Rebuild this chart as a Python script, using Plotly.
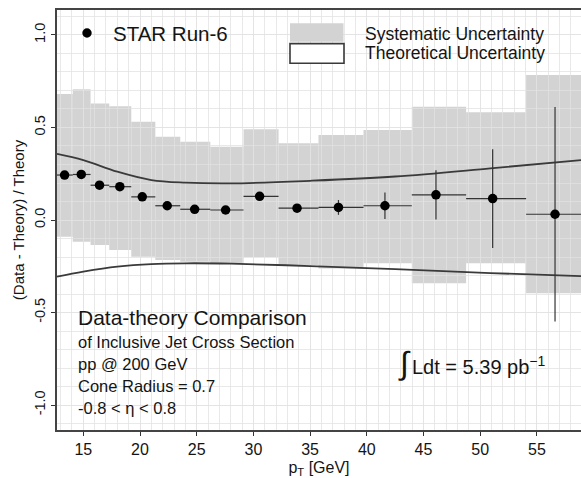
import plotly.graph_objects as go

# ---------------- data ----------------
pt = [13.35, 14.82, 16.43, 18.22, 20.2, 22.4, 24.82, 27.55, 30.55, 33.85, 37.5, 41.6, 46.1, 51.1, 56.6]
ratio = [0.243, 0.246, 0.188, 0.18, 0.125, 0.077, 0.058, 0.054, 0.128, 0.064, 0.068, 0.077, 0.136, 0.116, 0.031]
stat_err = [0.006, 0.006, 0.007, 0.008, 0.009, 0.01, 0.011, 0.012, 0.014, 0.02, 0.04, 0.072, 0.133, 0.267, 0.58]
bin_lo = [12.68, 14.07, 15.64, 17.29, 19.23, 21.35, 23.55, 26.2, 29.13, 32.22, 35.74, 39.71, 43.97, 48.76, 54.05]
bin_hi = [14.07, 15.64, 17.29, 19.23, 21.35, 23.55, 26.2, 29.13, 32.22, 35.74, 39.71, 43.97, 48.76, 54.05, 59.5]
sys_hi = [0.681, 0.706, 0.63, 0.615, 0.531, 0.45, 0.423, 0.396, 0.49, 0.415, 0.459, 0.486, 0.612, 0.582, 0.784]
sys_lo = [-0.09, -0.117, -0.135, -0.162, -0.198, -0.216, -0.225, -0.234, -0.20, -0.243, -0.262, -0.234, -0.342, -0.234, -0.396]

theory_x = [12.68, 15.0, 18.0, 21.0, 24.0, 28.0, 35.0, 42.5, 50.9, 58.9]
theory_up = [0.357, 0.324, 0.261, 0.216, 0.202, 0.198, 0.212, 0.235, 0.279, 0.324]
theory_dn = [-0.306, -0.279, -0.252, -0.238, -0.234, -0.236, -0.249, -0.266, -0.287, -0.303]

x_ticks = [15, 20, 25, 30, 35, 40, 45, 50, 55]
y_ticks = [-1.0, -0.5, 0.0, 0.5, 1.0]

# ---------------- layout geometry ----------------
W, H = 581, 478
ML, MR, MT, MB = 57, 0, 10, 48
PW, PH = W - ML - MR, H - MT - MB
FONT = "Liberation Sans, Arial, Helvetica, sans-serif"
INK = "#141414"


def px(x):
    return (x - ML) / PW


def py(y):
    return (H - MB - y) / PH


fig = go.Figure()

# systematic band as shapes drawn beneath the grid
shapes = []
for lo, hi, a, b in zip(bin_lo, bin_hi, sys_lo, sys_hi):
    shapes.append(dict(type="rect", xref="x", yref="y", x0=lo, x1=hi, y0=a, y1=b,
                       fillcolor="#d3d3d3", line=dict(width=0), layer="below"))

# theoretical uncertainty curves
for yy in (theory_up, theory_dn):
    fig.add_trace(go.Scatter(x=theory_x, y=yy, mode="lines",
                             line=dict(color="#3a3a3a", width=1.8, shape="spline", smoothing=1.0),
                             hoverinfo="skip", showlegend=False))

# data points
fig.add_trace(go.Scatter(
    x=pt, y=ratio, mode="markers",
    marker=dict(color="black", size=9.5),
    error_x=dict(type="data", symmetric=False,
                 array=[h - p for h, p in zip(bin_hi, pt)],
                 arrayminus=[p - l for l, p in zip(bin_lo, pt)],
                 color="#333333", thickness=1.2, width=0),
    error_y=dict(type="data", array=stat_err, color="#333333", thickness=1.2, width=0),
    showlegend=False))

# legend graphics (manual)
r = 4.7
shapes.append(dict(type="circle", xref="paper", yref="paper",
                   x0=px(87 - r), x1=px(87 + r), y0=py(33 + r), y1=py(33 - r),
                   fillcolor="black", line=dict(width=0), layer="above"))
shapes.append(dict(type="rect", xref="paper", yref="paper",
                   x0=px(290), x1=px(343.5), y0=py(41.7), y1=py(23.3),
                   fillcolor="#d3d3d3", line=dict(width=0), layer="above"))
shapes.append(dict(type="rect", xref="paper", yref="paper",
                   x0=px(290), x1=px(344), y0=py(63.3), y1=py(43.6),
                   fillcolor="white", line=dict(color="#3a3a3a", width=1.6), layer="above"))

annotations = []


def txt(s, x, y, size, xanchor="left"):
    annotations.append(dict(text=s, x=px(x), y=py(y), xref="paper", yref="paper",
                            xanchor=xanchor, yanchor="middle", showarrow=False,
                            font=dict(family=FONT, size=size, color=INK)))


txt("STAR Run-6", 111, 33, 20.5)
txt("Systematic Uncertainty", 363, 33.5, 17.5)
txt("Theoretical Uncertainty", 363, 53.5, 17.5)
txt("Data-theory Comparison", 76, 317.5, 21)
txt("of Inclusive Jet Cross Section", 76, 341.7, 16.5)
txt("pp @ 200 GeV", 76, 363.5, 16.5)
txt("Cone Radius = 0.7", 76, 386, 16.5)
txt("-0.8 &lt; η &lt; 0.8", 76, 407.7, 16.5)
txt("∫", 396, 363, 32)
txt("Ldt = 5.39 pb<sup>−1</sup>", 410, 365, 20)

fig.update_layout(
    width=W, height=H,
    margin=dict(l=ML, r=MR, t=MT, b=MB, pad=0),
    paper_bgcolor="white", plot_bgcolor="white",
    shapes=shapes, annotations=annotations,
    font=dict(family=FONT, color=INK),
    xaxis=dict(range=[12.68, 58.89], tickmode="array", tickvals=x_ticks,
               ticks="outside", ticklen=4, tickwidth=1.2, tickcolor="#333",
               showline=True, linecolor="#444", linewidth=1.6, mirror=True,
               showgrid=True, gridcolor="rgba(226,226,226,0.75)", gridwidth=1,
               minor=dict(dtick=1, tick0=0, showgrid=True, gridcolor="rgba(226,226,226,0.75)",
                          gridwidth=1, ticks=""),
               tickfont=dict(size=16, color=INK), zeroline=False,
               title=dict(text="p<sub>T</sub> [GeV]", font=dict(size=16, color=INK), standoff=9)),
    yaxis=dict(range=[-1.135, 1.135], tickmode="array", tickvals=y_ticks,
               ticktext=["%.1f" % v if v >= 0 else "-%.1f" % abs(v) for v in y_ticks],
               tickangle=-90, ticks="outside", ticklen=4, tickwidth=1.2, tickcolor="#333",
               showline=True, linecolor="#444", linewidth=1.6, mirror=False,
               showgrid=True, gridcolor="rgba(226,226,226,0.75)", gridwidth=1,
               minor=dict(dtick=0.1, tick0=0, showgrid=True, gridcolor="rgba(226,226,226,0.75)",
                          gridwidth=1, ticks=""),
               tickfont=dict(size=14.5, color=INK), zeroline=False,
               title=dict(text="(Data - Theory) / Theory", font=dict(size=15, color=INK), standoff=4)),
)

fig.write_html("out.html")
